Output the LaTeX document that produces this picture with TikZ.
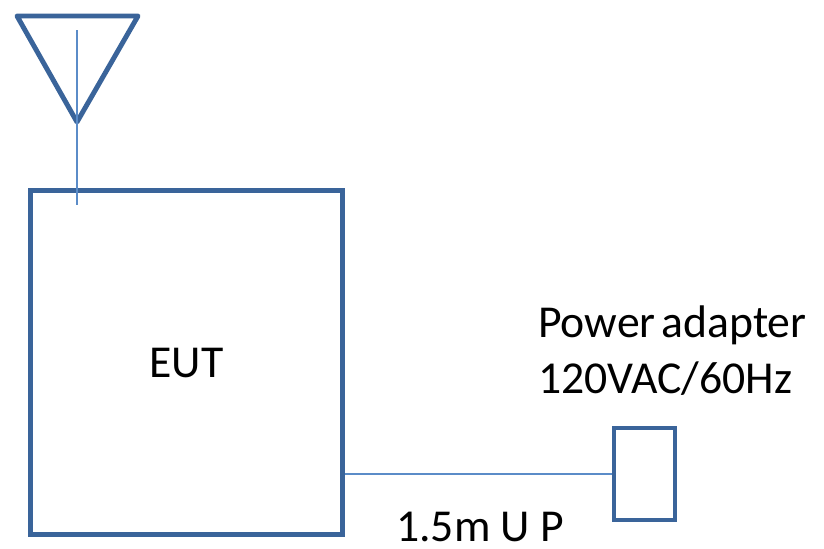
\documentclass[tikz,border=0pt]{standalone}
\usepackage{fontspec}
\setmainfont{Carlito}
\usetikzlibrary{positioning,calc}
\definecolor{BoxBlue}{HTML}{3A649A}
\definecolor{WireBlue}{HTML}{5B8CC8}
\tikzset{
  unitbox/.style={draw=BoxBlue, line width=4.2pt, fill=white, inner sep=0pt},
  wire/.style={draw=WireBlue, line width=1.6pt},
  label/.style={font=\fontsize{39}{46}\selectfont, text=black, inner sep=0pt},
}

\begin{document}
\begin{tikzpicture}[x=0.03cm, y=-0.03cm]
  \useasboundingbox (0,0) rectangle (824,548);

  % units
  \node[unitbox, minimum width=312*0.03cm, minimum height=344*0.03cm, label]
        (eut) at (186.5,362.5) {EUT};
  \node[unitbox, minimum width=61*0.03cm, minimum height=92*0.03cm]
        (adapter) at (644.5,474) {};

  % antenna
  \coordinate (antL) at (17,16);
  \coordinate (antR) at (138,16);
  \coordinate (antTip) at (77,122);
  \coordinate (feedTop) at (77,30);
  \coordinate (feedEnd) at (77,205);
  \draw[draw=BoxBlue, line width=4.2pt, line join=round] (antL) -- (antR) -- (antTip) -- cycle;
  \draw[wire] (feedTop) -- (feedEnd);

  % power cable
  \draw[wire] (adapter.west -| eut.east) -- (adapter.west);

  % texts
  \node[label, anchor=base west] (pwrname) at (538,337) {Power\hspace{-0.1em} adapter};
  \node[label, anchor=base west] (pwrrate) at (538,393) {120VAC/60Hz};
  \node[label, anchor=base west] (cable) at (396,541) {1.5m U P};
\end{tikzpicture}
\end{document}
